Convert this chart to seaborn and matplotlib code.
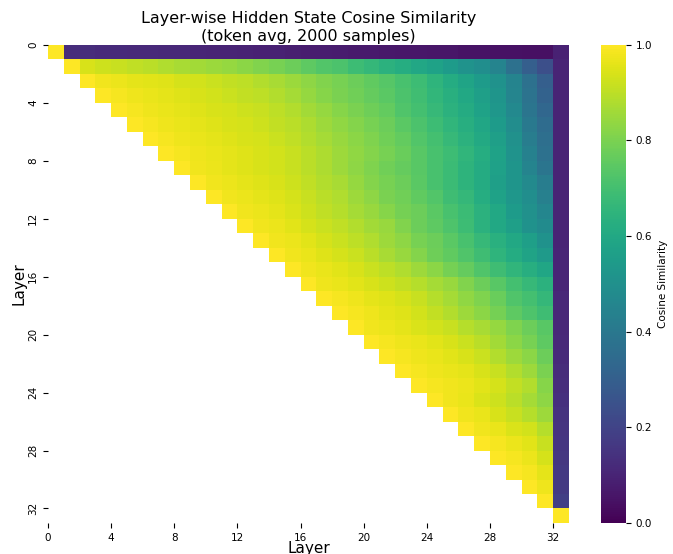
import numpy as np
import matplotlib.pyplot as plt
import seaborn as sns

n_layers = 33
tick_layers = list(range(0, 33, 4))

# layer 0 (embeddings) vs layers 1..31
first_layer = [.125, .125, .12, .12, .115, .115, .11, .11, .105, .10, .10, .095, .09, .09, .085, .08,
               .08, .075, .07, .07, .065, .06, .06, .055, .055, .05, .05, .045, .045, .04, .04]
first_vs_last = .09

# layers 1..31 vs last layer (32)
last_layer = [.10, .10, .10, .10, .10, .10, .10, .10, .10, .10, .10, .10, .10, .105, .105, .105,
              .11, .11, .11, .115, .12, .125, .13, .14, .145, .15, .155, .16, .165, .17, .185]

# row i (1..30): similarity with layers i+1 .. 31
mid_rows = [
    [.94, .925, .915, .905, .895, .88, .87, .86, .85, .84, .825, .81, .795, .775, .75, .73, .715, .685,
     .665, .64, .62, .595, .575, .545, .515, .49, .45, .37, .30, .24],
    [.98, .97, .96, .955, .95, .935, .93, .92, .91, .90, .885, .87, .85, .83, .81, .795, .775, .755,
     .735, .71, .685, .65, .615, .585, .545, .505, .45, .37, .30],
    [.985, .975, .965, .96, .95, .94, .93, .92, .91, .90, .885, .865, .84, .82, .80, .785, .765, .745,
     .715, .695, .66, .63, .60, .56, .52, .455, .38, .31],
    [.985, .975, .965, .96, .95, .94, .935, .925, .915, .90, .885, .86, .84, .82, .80, .78, .76, .725,
     .70, .67, .64, .61, .575, .53, .47, .39, .33],
    [.985, .975, .965, .96, .95, .94, .935, .925, .91, .895, .875, .855, .835, .815, .795, .775, .745,
     .715, .685, .655, .625, .59, .545, .485, .405, .35],
    [.985, .975, .965, .96, .95, .94, .935, .92, .905, .885, .865, .845, .825, .805, .785, .76, .73,
     .70, .67, .64, .605, .56, .50, .42, .36],
    [.985, .975, .965, .96, .95, .94, .93, .915, .895, .875, .855, .835, .815, .795, .77, .74, .71,
     .685, .655, .62, .575, .515, .435, .37],
    [.98, .97, .96, .95, .94, .93, .915, .895, .875, .855, .83, .805, .785, .765, .74, .71, .68, .645,
     .61, .57, .52, .45, .39],
    [.98, .97, .96, .95, .94, .925, .905, .885, .87, .84, .815, .795, .775, .745, .71, .68, .645, .61,
     .56, .52, .475, .42],
    [.98, .97, .96, .95, .935, .915, .895, .88, .855, .83, .80, .785, .755, .73, .69, .665, .62, .575,
     .53, .49, .43],
    [.98, .97, .96, .945, .925, .905, .89, .865, .845, .82, .79, .775, .745, .71, .68, .64, .60, .545,
     .50, .46],
    [.98, .97, .955, .935, .92, .905, .885, .86, .845, .81, .775, .75, .72, .685, .64, .60, .56, .51,
     .48],
    [.98, .97, .955, .935, .92, .90, .88, .855, .83, .795, .775, .745, .71, .67, .635, .60, .56, .51],
    [.98, .965, .95, .935, .92, .895, .87, .845, .815, .78, .755, .725, .69, .65, .615, .58, .54],
    [.98, .965, .955, .94, .92, .90, .88, .855, .825, .79, .765, .725, .69, .655, .625, .59],
    [.975, .965, .955, .94, .925, .91, .89, .865, .845, .81, .775, .74, .70, .67, .64],
    [.985, .975, .96, .95, .935, .915, .89, .865, .835, .805, .77, .725, .70, .665],
    [.985, .975, .96, .95, .93, .91, .885, .855, .825, .79, .75, .72, .69],
    [.98, .97, .96, .945, .93, .915, .89, .87, .84, .805, .775, .74],
    [.985, .975, .965, .955, .94, .92, .895, .86, .825, .795, .75],
    [.985, .975, .965, .955, .94, .92, .885, .855, .825, .775],
    [.985, .975, .965, .96, .94, .915, .885, .855, .80],
    [.985, .978, .97, .955, .935, .91, .885, .82],
    [.98, .965, .945, .925, .895, .865, .83],
    [.98, .965, .94, .915, .89, .855],
    [.98, .965, .945, .93, .89],
    [.985, .97, .955, .915],
    [.985, .97, .935],
    [.985, .96],
    [.975],
]

sim = np.full((n_layers, n_layers), np.nan)
np.fill_diagonal(sim, 1.0)
sim[0, 1:32] = first_layer
sim[0, 32] = first_vs_last
sim[1:32, 32] = last_layer
for i, row in enumerate(mid_rows, start=1):
    sim[i, i + 1:32] = row

mask = np.tril(np.ones_like(sim, dtype=bool), k=-1)

fig = plt.figure(figsize=(6.73, 5.54), dpi=100)
ax = fig.add_axes([0.0713, 0.056, 0.774, 0.863])
cax = fig.add_axes([0.893, 0.056, 0.037, 0.863])

sns.heatmap(sim, mask=mask, cmap="viridis", vmin=0, vmax=1, ax=ax, cbar_ax=cax,
            cbar_kws={"label": "Cosine Similarity"})

ax.set_xticks(tick_layers)
ax.set_xticklabels(tick_layers, rotation=0, fontsize=7.5)
ax.set_yticks(tick_layers)
ax.set_yticklabels(tick_layers, rotation=90, fontsize=7.5, va="center")
ax.set_xlabel("Layer", fontsize=11, labelpad=-1)
ax.set_ylabel("Layer", fontsize=11, labelpad=1)
ax.set_title("Layer-wise Hidden State Cosine Similarity\n(token avg, 2000 samples)",
             fontsize=11.5, pad=3, linespacing=1.2)

cax.tick_params(labelsize=7.5)
cax.yaxis.label.set_size(7.5)
cax.set_yticks([0.0, 0.2, 0.4, 0.6, 0.8, 1.0])

fig.savefig("out.png", dpi=100)
